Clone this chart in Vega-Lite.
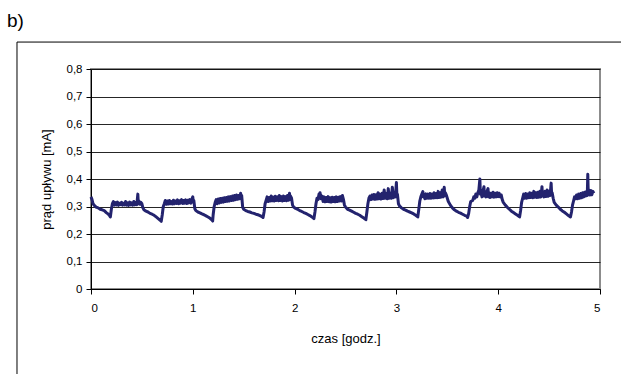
{
 "$schema": "https://vega.github.io/schema/vega-lite/v6.json",
 "width": 509, "height": 220,
 "autosize": {"type": "none"},
 "padding": {"left": 91, "top": 69, "right": 21, "bottom": 85},
 "background": "white",
 "title": {"text": "b)", "anchor": "start", "frame": "group", "dx": -84, "dy": 19, "offset": 15, "baseline": "alphabetic", "font": "Liberation Sans", "fontSize": 19, "fontWeight": "normal", "color": "black"},
 "config": {"view": {"stroke": "#8c8c8c", "strokeWidth": 2}},
 "layer": [
  {
   "data": {"values": [{}]},
   "mark": {"type": "rect", "filled": false, "stroke": "black", "strokeWidth": 1, "clip": false},
   "encoding": {
    "x": {"datum": -0.727, "type": "quantitative", "title": "czas [godz.]",
     "axis": {"values": [0, 1, 2, 3, 4, 5], "format": "d", "grid": false, "domainColor": "black", "domainWidth": 1, "tickColor": "black", "tickSize": 5, "labelFont": "Liberation Sans", "labelFontSize": 11.5, "labelColor": "black", "labelPadding": 8, "labelOverlap": false, "titleFont": "Liberation Sans", "titleFontSize": 13, "titleFontWeight": "normal", "titleColor": "black", "titlePadding": 19}},
    "x2": {"datum": 5.5},
    "y": {"datum": 0.898, "type": "quantitative", "title": "prąd upływu [mA]",
     "axis": {"values": [0, 0.1, 0.2, 0.3, 0.4, 0.5, 0.6, 0.7, 0.8], "labelExpr": "datum.value == 0 ? '0' : replace(format(datum.value, '.1f'), '.', ',')", "labelOverlap": false, "grid": true, "gridColor": "black", "gridWidth": 1, "gridOpacity": 0.85, "domainColor": "black", "domainWidth": 1, "tickColor": "black", "tickSize": 5, "labelFont": "Liberation Sans", "labelFontSize": 11.5, "labelColor": "black", "labelPadding": 4, "titleFont": "Liberation Sans", "titleFontSize": 13, "titleFontWeight": "normal", "titleColor": "black", "titlePadding": 13}},
    "y2": {"datum": -0.5}
   }
  },
  {
   "data": {"values": [
{"t":0,"v":0.335},{"t":0.01,"v":0.325},{"t":0.02,"v":0.31},{"t":0.03,"v":0.305},{"t":0.05,"v":0.298},{"t":0.07,"v":0.295},{"t":0.09,"v":0.29},{"t":0.11,"v":0.288},{"t":0.13,"v":0.285},{"t":0.15,"v":0.278},{"t":0.17,"v":0.272},{"t":0.18,"v":0.268},{"t":0.19,"v":0.262},{"t":0.2,"v":0.29},{"t":0.21,"v":0.31},
{"t":0.22,"v":0.318},{"t":0.23,"v":0.305},{"t":0.24,"v":0.314},{"t":0.25,"v":0.306},{"t":0.26,"v":0.316},{"t":0.27,"v":0.304},{"t":0.28,"v":0.312},{"t":0.29,"v":0.307},{"t":0.3,"v":0.315},{"t":0.31,"v":0.305},{"t":0.32,"v":0.312},{"t":0.33,"v":0.306},{"t":0.34,"v":0.318},{"t":0.35,"v":0.305},{"t":0.36,"v":0.313},{"t":0.37,"v":0.304},{"t":0.38,"v":0.316},{"t":0.39,"v":0.306},{"t":0.4,"v":0.313},{"t":0.41,"v":0.305},{"t":0.42,"v":0.318},{"t":0.43,"v":0.306},{"t":0.44,"v":0.314},{"t":0.45,"v":0.307},{"t":0.46,"v":0.345},{"t":0.465,"v":0.31},{"t":0.47,"v":0.32},{"t":0.48,"v":0.308},{"t":0.49,"v":0.315},{"t":0.5,"v":0.31},
{"t":0.51,"v":0.295},{"t":0.52,"v":0.288},{"t":0.54,"v":0.283},{"t":0.56,"v":0.28},{"t":0.58,"v":0.275},{"t":0.6,"v":0.272},{"t":0.62,"v":0.268},{"t":0.64,"v":0.262},{"t":0.66,"v":0.256},{"t":0.68,"v":0.25},{"t":0.69,"v":0.246},{"t":0.7,"v":0.27},{"t":0.71,"v":0.3},{"t":0.72,"v":0.31},
{"t":0.73,"v":0.322},{"t":0.74,"v":0.308},{"t":0.75,"v":0.32},{"t":0.76,"v":0.309},{"t":0.77,"v":0.322},{"t":0.78,"v":0.31},{"t":0.79,"v":0.318},{"t":0.8,"v":0.309},{"t":0.81,"v":0.323},{"t":0.82,"v":0.31},{"t":0.83,"v":0.32},{"t":0.84,"v":0.311},{"t":0.85,"v":0.324},{"t":0.86,"v":0.31},{"t":0.87,"v":0.321},{"t":0.88,"v":0.312},{"t":0.89,"v":0.325},{"t":0.9,"v":0.311},{"t":0.91,"v":0.322},{"t":0.92,"v":0.312},{"t":0.93,"v":0.324},{"t":0.94,"v":0.311},{"t":0.95,"v":0.323},{"t":0.96,"v":0.313},{"t":0.97,"v":0.325},{"t":0.98,"v":0.312},{"t":0.99,"v":0.326},{"t":1.0,"v":0.335},{"t":1.005,"v":0.315},{"t":1.01,"v":0.322},
{"t":1.02,"v":0.292},{"t":1.03,"v":0.285},{"t":1.05,"v":0.28},{"t":1.07,"v":0.277},{"t":1.09,"v":0.273},{"t":1.11,"v":0.27},{"t":1.13,"v":0.266},{"t":1.15,"v":0.262},{"t":1.17,"v":0.257},{"t":1.19,"v":0.25},{"t":1.195,"v":0.247},{"t":1.2,"v":0.27},{"t":1.21,"v":0.3},{"t":1.22,"v":0.315},
{"t":1.23,"v":0.325},{"t":1.24,"v":0.31},{"t":1.25,"v":0.327},{"t":1.26,"v":0.313},{"t":1.27,"v":0.329},{"t":1.28,"v":0.315},{"t":1.29,"v":0.33},{"t":1.3,"v":0.316},{"t":1.31,"v":0.332},{"t":1.32,"v":0.318},{"t":1.33,"v":0.333},{"t":1.34,"v":0.319},{"t":1.35,"v":0.335},{"t":1.36,"v":0.32},{"t":1.37,"v":0.336},{"t":1.38,"v":0.322},{"t":1.39,"v":0.338},{"t":1.4,"v":0.323},{"t":1.41,"v":0.34},{"t":1.42,"v":0.325},{"t":1.43,"v":0.342},{"t":1.44,"v":0.326},{"t":1.45,"v":0.34},{"t":1.46,"v":0.328},{"t":1.47,"v":0.348},{"t":1.475,"v":0.33},{"t":1.48,"v":0.34},
{"t":1.49,"v":0.297},{"t":1.5,"v":0.29},{"t":1.52,"v":0.285},{"t":1.54,"v":0.282},{"t":1.56,"v":0.28},{"t":1.58,"v":0.277},{"t":1.6,"v":0.275},{"t":1.62,"v":0.272},{"t":1.64,"v":0.27},{"t":1.66,"v":0.267},{"t":1.68,"v":0.263},{"t":1.69,"v":0.26},{"t":1.7,"v":0.28},{"t":1.71,"v":0.31},{"t":1.72,"v":0.322},
{"t":1.73,"v":0.335},{"t":1.74,"v":0.318},{"t":1.75,"v":0.333},{"t":1.76,"v":0.32},{"t":1.77,"v":0.338},{"t":1.78,"v":0.321},{"t":1.79,"v":0.334},{"t":1.8,"v":0.32},{"t":1.81,"v":0.337},{"t":1.82,"v":0.322},{"t":1.83,"v":0.335},{"t":1.84,"v":0.321},{"t":1.85,"v":0.34},{"t":1.86,"v":0.322},{"t":1.87,"v":0.336},{"t":1.88,"v":0.32},{"t":1.89,"v":0.338},{"t":1.9,"v":0.322},{"t":1.91,"v":0.336},{"t":1.92,"v":0.321},{"t":1.93,"v":0.34},{"t":1.94,"v":0.323},{"t":1.95,"v":0.348},{"t":1.955,"v":0.325},{"t":1.96,"v":0.338},{"t":1.97,"v":0.33},
{"t":1.98,"v":0.305},{"t":1.99,"v":0.298},{"t":2.01,"v":0.293},{"t":2.03,"v":0.29},{"t":2.05,"v":0.285},{"t":2.07,"v":0.282},{"t":2.09,"v":0.278},{"t":2.11,"v":0.275},{"t":2.13,"v":0.271},{"t":2.15,"v":0.267},{"t":2.17,"v":0.262},{"t":2.19,"v":0.256},{"t":2.2,"v":0.28},{"t":2.21,"v":0.31},{"t":2.22,"v":0.33},{"t":2.23,"v":0.325},{"t":2.24,"v":0.345},{"t":2.245,"v":0.33},{"t":2.25,"v":0.35},{"t":2.26,"v":0.328},
{"t":2.27,"v":0.338},{"t":2.28,"v":0.318},{"t":2.29,"v":0.335},{"t":2.3,"v":0.317},{"t":2.31,"v":0.333},{"t":2.32,"v":0.318},{"t":2.33,"v":0.336},{"t":2.34,"v":0.317},{"t":2.35,"v":0.332},{"t":2.36,"v":0.316},{"t":2.37,"v":0.334},{"t":2.38,"v":0.318},{"t":2.39,"v":0.333},{"t":2.4,"v":0.317},{"t":2.41,"v":0.335},{"t":2.42,"v":0.318},{"t":2.43,"v":0.334},{"t":2.44,"v":0.32},{"t":2.45,"v":0.336},{"t":2.46,"v":0.32},{"t":2.47,"v":0.34},{"t":2.48,"v":0.325},
{"t":2.49,"v":0.305},{"t":2.5,"v":0.298},{"t":2.52,"v":0.29},{"t":2.54,"v":0.287},{"t":2.56,"v":0.283},{"t":2.58,"v":0.279},{"t":2.6,"v":0.275},{"t":2.62,"v":0.272},{"t":2.64,"v":0.268},{"t":2.66,"v":0.263},{"t":2.68,"v":0.258},{"t":2.7,"v":0.252},{"t":2.71,"v":0.28},{"t":2.72,"v":0.31},{"t":2.73,"v":0.33},{"t":2.74,"v":0.338},
{"t":2.75,"v":0.325},{"t":2.76,"v":0.342},{"t":2.77,"v":0.327},{"t":2.78,"v":0.344},{"t":2.79,"v":0.326},{"t":2.8,"v":0.343},{"t":2.81,"v":0.327},{"t":2.82,"v":0.35},{"t":2.83,"v":0.328},{"t":2.84,"v":0.345},{"t":2.85,"v":0.327},{"t":2.86,"v":0.348},{"t":2.87,"v":0.329},{"t":2.88,"v":0.36},{"t":2.89,"v":0.33},{"t":2.9,"v":0.347},{"t":2.91,"v":0.328},{"t":2.92,"v":0.365},{"t":2.93,"v":0.33},{"t":2.94,"v":0.348},{"t":2.95,"v":0.33},{"t":2.96,"v":0.37},{"t":2.97,"v":0.332},{"t":2.98,"v":0.35},{"t":2.99,"v":0.335},{"t":3.0,"v":0.387},{"t":3.005,"v":0.34},{"t":3.01,"v":0.345},
{"t":3.02,"v":0.31},{"t":3.03,"v":0.302},{"t":3.05,"v":0.295},{"t":3.07,"v":0.29},{"t":3.09,"v":0.287},{"t":3.11,"v":0.283},{"t":3.13,"v":0.28},{"t":3.15,"v":0.277},{"t":3.17,"v":0.273},{"t":3.19,"v":0.268},{"t":3.21,"v":0.262},{"t":3.22,"v":0.29},{"t":3.23,"v":0.32},{"t":3.24,"v":0.335},{"t":3.25,"v":0.345},{"t":3.26,"v":0.354},{"t":3.265,"v":0.335},
{"t":3.27,"v":0.345},{"t":3.28,"v":0.328},{"t":3.29,"v":0.346},{"t":3.3,"v":0.33},{"t":3.31,"v":0.345},{"t":3.32,"v":0.33},{"t":3.33,"v":0.347},{"t":3.34,"v":0.33},{"t":3.35,"v":0.345},{"t":3.36,"v":0.331},{"t":3.37,"v":0.35},{"t":3.38,"v":0.332},{"t":3.39,"v":0.347},{"t":3.4,"v":0.332},{"t":3.41,"v":0.355},{"t":3.42,"v":0.333},{"t":3.43,"v":0.35},{"t":3.44,"v":0.334},{"t":3.45,"v":0.36},{"t":3.46,"v":0.335},{"t":3.47,"v":0.37},{"t":3.475,"v":0.34},{"t":3.48,"v":0.35},{"t":3.49,"v":0.342},
{"t":3.5,"v":0.33},{"t":3.51,"v":0.318},{"t":3.53,"v":0.305},{"t":3.55,"v":0.295},{"t":3.57,"v":0.288},{"t":3.59,"v":0.283},{"t":3.61,"v":0.279},{"t":3.63,"v":0.276},{"t":3.65,"v":0.272},{"t":3.67,"v":0.268},{"t":3.69,"v":0.265},{"t":3.7,"v":0.26},{"t":3.71,"v":0.275},{"t":3.72,"v":0.3},{"t":3.73,"v":0.318},{"t":3.75,"v":0.322},{"t":3.76,"v":0.335},{"t":3.77,"v":0.33},{"t":3.78,"v":0.345},{"t":3.79,"v":0.335},{"t":3.8,"v":0.35},{"t":3.81,"v":0.36},{"t":3.82,"v":0.4},{"t":3.825,"v":0.345},{"t":3.83,"v":0.36},{"t":3.84,"v":0.335},{"t":3.85,"v":0.355},{"t":3.86,"v":0.372},{"t":3.865,"v":0.338},{"t":3.87,"v":0.35},{"t":3.88,"v":0.335},{"t":3.89,"v":0.355},{"t":3.9,"v":0.365},{"t":3.905,"v":0.335},{"t":3.91,"v":0.35},{"t":3.92,"v":0.333},{"t":3.93,"v":0.348},{"t":3.94,"v":0.335},{"t":3.95,"v":0.352},{"t":3.96,"v":0.334},{"t":3.97,"v":0.348},{"t":3.98,"v":0.335},{"t":3.99,"v":0.35},{"t":4.0,"v":0.336},{"t":4.01,"v":0.348},{"t":4.02,"v":0.335},{"t":4.03,"v":0.342},
{"t":4.04,"v":0.325},{"t":4.05,"v":0.315},{"t":4.07,"v":0.305},{"t":4.09,"v":0.297},{"t":4.11,"v":0.29},{"t":4.13,"v":0.283},{"t":4.15,"v":0.278},{"t":4.17,"v":0.273},{"t":4.19,"v":0.268},{"t":4.21,"v":0.262},{"t":4.22,"v":0.285},{"t":4.23,"v":0.315},{"t":4.24,"v":0.33},{"t":4.25,"v":0.345},
{"t":4.26,"v":0.33},{"t":4.27,"v":0.347},{"t":4.28,"v":0.33},{"t":4.29,"v":0.345},{"t":4.3,"v":0.332},{"t":4.31,"v":0.35},{"t":4.32,"v":0.333},{"t":4.33,"v":0.348},{"t":4.34,"v":0.332},{"t":4.35,"v":0.355},{"t":4.36,"v":0.334},{"t":4.37,"v":0.35},{"t":4.38,"v":0.333},{"t":4.39,"v":0.352},{"t":4.4,"v":0.334},{"t":4.41,"v":0.355},{"t":4.42,"v":0.335},{"t":4.43,"v":0.372},{"t":4.435,"v":0.34},{"t":4.44,"v":0.352},{"t":4.45,"v":0.335},{"t":4.46,"v":0.355},{"t":4.47,"v":0.336},{"t":4.48,"v":0.36},{"t":4.49,"v":0.337},{"t":4.5,"v":0.355},{"t":4.51,"v":0.34},{"t":4.52,"v":0.385},{"t":4.525,"v":0.345},{"t":4.53,"v":0.35},
{"t":4.54,"v":0.33},{"t":4.55,"v":0.315},{"t":4.57,"v":0.305},{"t":4.59,"v":0.298},{"t":4.61,"v":0.29},{"t":4.63,"v":0.284},{"t":4.65,"v":0.279},{"t":4.67,"v":0.273},{"t":4.69,"v":0.267},{"t":4.71,"v":0.262},{"t":4.72,"v":0.28},{"t":4.73,"v":0.305},{"t":4.74,"v":0.32},{"t":4.75,"v":0.335},{"t":4.76,"v":0.328},
{"t":4.77,"v":0.342},{"t":4.78,"v":0.328},{"t":4.79,"v":0.345},{"t":4.8,"v":0.33},{"t":4.81,"v":0.347},{"t":4.82,"v":0.332},{"t":4.83,"v":0.35},{"t":4.84,"v":0.335},{"t":4.85,"v":0.352},{"t":4.86,"v":0.338},{"t":4.87,"v":0.355},{"t":4.875,"v":0.34},{"t":4.88,"v":0.417},{"t":4.885,"v":0.345},{"t":4.89,"v":0.36},{"t":4.9,"v":0.342},{"t":4.91,"v":0.358},{"t":4.92,"v":0.343},{"t":4.93,"v":0.355},{"t":4.94,"v":0.348}
   ]},
   "mark": {"type": "line", "color": "#23236e", "strokeWidth": 3, "strokeJoin": "round"},
   "encoding": {
    "x": {"field": "t", "type": "quantitative", "scale": {"domain": [0, 5], "nice": false, "zero": false}, "title": "czas [godz.]",
     "axis": {"values": [0, 1, 2, 3, 4, 5], "format": "d", "grid": false, "domainColor": "black", "domainWidth": 1, "tickColor": "black", "tickSize": 5, "labelFont": "Liberation Sans", "labelFontSize": 11.5, "labelColor": "black", "labelPadding": 8, "labelOverlap": false, "titleFont": "Liberation Sans", "titleFontSize": 13, "titleFontWeight": "normal", "titleColor": "black", "titlePadding": 19}},
    "y": {"field": "v", "type": "quantitative", "scale": {"domain": [0, 0.8], "nice": false}, "title": "prąd upływu [mA]",
     "axis": {"values": [0, 0.1, 0.2, 0.3, 0.4, 0.5, 0.6, 0.7, 0.8], "labelExpr": "datum.value == 0 ? '0' : replace(format(datum.value, '.1f'), '.', ',')", "labelOverlap": false, "grid": true, "gridColor": "black", "gridWidth": 1, "gridOpacity": 0.85, "domainColor": "black", "domainWidth": 1, "tickColor": "black", "tickSize": 5, "labelFont": "Liberation Sans", "labelFontSize": 11.5, "labelColor": "black", "labelPadding": 4, "titleFont": "Liberation Sans", "titleFontSize": 13, "titleFontWeight": "normal", "titleColor": "black", "titlePadding": 13}}
   }
  }
 ]
}
